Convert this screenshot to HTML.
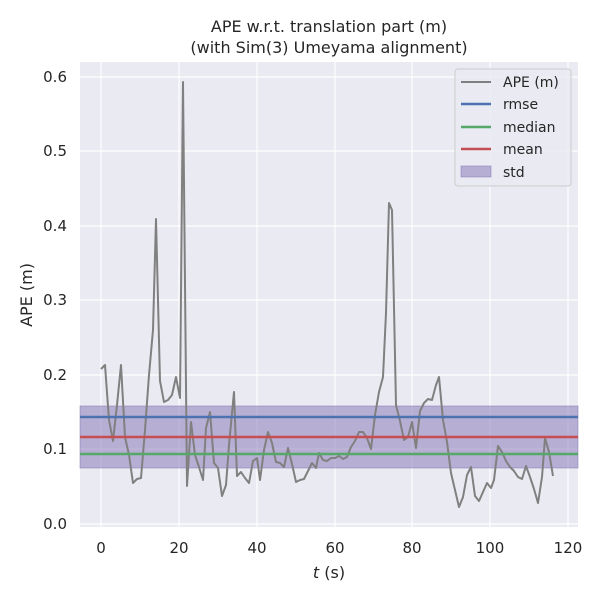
<!DOCTYPE html>
<html><head><meta charset="utf-8"><style>body{margin:0;background:#fff}svg{display:block}text{font-family:"DejaVu Sans","Liberation Sans",sans-serif;fill:#262626}</style></head><body>
<svg width="600" height="600" xmlns="http://www.w3.org/2000/svg">
<rect x="80" y="62" width="498" height="465" fill="#eaeaf2"/>
<g stroke="#fff" stroke-width="1.2">
<line x1="101" y1="62" x2="101" y2="527"/><line x1="179" y1="62" x2="179" y2="527"/><line x1="257" y1="62" x2="257" y2="527"/><line x1="335" y1="62" x2="335" y2="527"/><line x1="412" y1="62" x2="412" y2="527"/><line x1="490" y1="62" x2="490" y2="527"/><line x1="568" y1="62" x2="568" y2="527"/>
<line x1="80" y1="524" x2="578" y2="524"/><line x1="80" y1="449" x2="578" y2="449"/><line x1="80" y1="375" x2="578" y2="375"/><line x1="80" y1="300" x2="578" y2="300"/><line x1="80" y1="226" x2="578" y2="226"/><line x1="80" y1="151" x2="578" y2="151"/><line x1="80" y1="77" x2="578" y2="77"/>
</g>
<rect x="80" y="406" width="498" height="62" fill="#8172b3" fill-opacity="0.5" stroke="#8172b3" stroke-opacity="0.5"/>
<polyline fill="none" stroke="#808080" stroke-width="2" stroke-linejoin="round" points="101,369 105,365 109,420 113,441 117,405 121,365 125,437 129,455 133,483 137,479 141,478 145,430 149,375 153,330 156,219 160,381 164,402 168,400 172,395 176,377 180,398 183,82 187,486 191,422 195,455 199,467 203,480 206,428 210,412 214,463 218,468 222,496 226,485 229,445 234,392 237,476 241,472 245,478 249,483 253,461 257,458 260,480 264,450 268,432 272,443 276,462 280,463 284,467 288,448 292,464 296,482 300,480 304,479 308,471 312,463 316,468 319,453 323,460 327,461 331,458 335,458 339,456 343,459 347,457 351,447 355,441 359,432 363,432 367,438 371,449 375,415 379,392 383,377 386,313 389,203 392,210 396,405 400,421 404,440 408,437 412,422 416,448 420,411 424,403 428,399 432,400 436,385 439,377 443,420 447,442 451,473 455,490 459,507 463,497 467,475 471,467 475,496 479,501 483,492 487,483 491,488 494,480 498,446 502,452 506,461 510,467 514,471 518,477 522,479 526,466 530,477 534,489 538,503 542,477 545,438 549,452 553,476"/>
<line x1="80" y1="417" x2="578" y2="417" stroke="#4c72b0" stroke-width="2.5"/>
<line x1="80" y1="437" x2="578" y2="437" stroke="#c44e52" stroke-width="2.5"/>
<line x1="80" y1="454" x2="578" y2="454" stroke="#55a868" stroke-width="2.5"/>
<g font-size="15" text-anchor="middle">
<text x="101" y="553">0</text><text x="179" y="553">20</text><text x="257" y="553">40</text><text x="335" y="553">60</text><text x="412" y="553">80</text><text x="490" y="553">100</text><text x="568" y="553">120</text>
</g>
<g font-size="15" text-anchor="end">
<text x="67" y="529">0.0</text><text x="67" y="454">0.1</text><text x="67" y="380">0.2</text><text x="67" y="305">0.3</text><text x="67" y="231">0.4</text><text x="67" y="156">0.5</text><text x="67" y="82">0.6</text>
</g>
<text x="329" y="578" font-size="16" text-anchor="middle"><tspan font-style="italic">t</tspan> (s)</text>
<text transform="translate(32,295) rotate(-90)" font-size="16" text-anchor="middle">APE (m)</text>
<text x="329" y="32" font-size="16" text-anchor="middle">APE w.r.t. translation part (m)</text>
<text x="329" y="53" font-size="16" text-anchor="middle">(with Sim(3) Umeyama alignment)</text>
<rect x="455" y="69" width="116" height="117" rx="3" fill="#eaeaf2" fill-opacity="0.8" stroke="#ccc"/>
<g font-size="14">
<line x1="461" y1="82" x2="491" y2="82" stroke="#808080" stroke-width="2"/><text x="503" y="87">APE (m)</text>
<line x1="461" y1="104" x2="491" y2="104" stroke="#4c72b0" stroke-width="2.5"/><text x="503" y="109">rmse</text>
<line x1="461" y1="127" x2="491" y2="127" stroke="#55a868" stroke-width="2.5"/><text x="503" y="132">median</text>
<line x1="461" y1="149" x2="491" y2="149" stroke="#c44e52" stroke-width="2.5"/><text x="503" y="154">mean</text>
<rect x="461" y="166" width="30" height="11" fill="#8172b3" fill-opacity="0.5" stroke="#8172b3" stroke-opacity="0.5"/><text x="503" y="177">std</text>
</g>
</svg>
</body></html>
